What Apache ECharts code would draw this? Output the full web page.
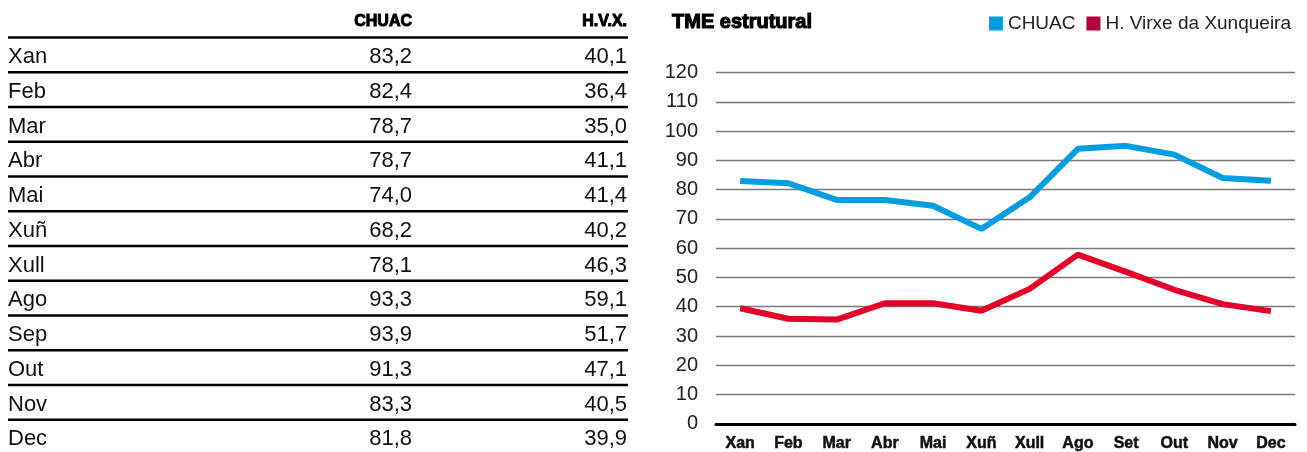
<!DOCTYPE html>
<html>
<head>
<meta charset="utf-8">
<script src="https://cdn.jsdelivr.net/npm/echarts@6/dist/echarts.min.js"></script>
<style>
html,body{margin:0;padding:0;background:#fff;}
#main{width:1307px;height:452px;}
</style>
</head>
<body>
<div id="main"></div>
<script>
// ---- Table data ----
const tableMonths = ['Xan','Feb','Mar','Abr','Mai','Xuñ','Xull','Ago','Sep','Out','Nov','Dec'];
const tableChuac = [83.2, 82.4, 78.7, 78.7, 74.0, 68.2, 78.1, 93.3, 93.9, 91.3, 83.3, 81.8];
const tableHvx = [40.1, 36.4, 35.0, 41.1, 41.4, 40.2, 46.3, 59.1, 51.7, 47.1, 40.5, 39.9];
const tableHeaders = ['CHUAC', 'H.V.X.'];

// ---- Chart data ----
const chartTitle = 'TME estrutural';
const categories = ['Xan','Feb','Mar','Abr','Mai','Xuñ','Xull','Ago','Set','Out','Nov','Dec'];
const seriesNames = ['CHUAC', 'H. Virxe da Xunqueira'];
const chuacLine = [83.0, 82.2, 76.5, 76.5, 74.5, 66.6, 77.4, 94.0, 95.0, 92.0, 84.0, 83.1];
const hvxLine = [39.5, 35.9, 35.6, 41.2, 41.2, 38.6, 46.1, 57.8, 51.9, 45.8, 40.9, 38.5];

const fmt = v => v.toFixed(1).replace('.', ',');

const chart = echarts.init(document.getElementById('main'), null, {renderer: 'canvas'});

// Build table graphics
const graphics = [];
const rowTop = 37.5, rowH = 34.75;
const colLeft = 8, col1Right = 412, col2Right = 627, tableRight = 628;
const bodyFont = '22px "Liberation Sans", Arial, sans-serif';
const headFont = 'bold 16px "Liberation Sans", Arial, sans-serif';
graphics.push({type:'text', style:{text: tableHeaders[0], x: col1Right, y: 22, textAlign:'right', textVerticalAlign:'middle', font: headFont, fill:'#000', stroke:'#000', lineWidth:1}});
graphics.push({type:'text', style:{text: tableHeaders[1], x: col2Right, y: 22, textAlign:'right', textVerticalAlign:'middle', font: headFont, fill:'#000', stroke:'#000', lineWidth:1}});
graphics.push({type:'line', shape:{x1: colLeft, y1: rowTop, x2: tableRight, y2: rowTop}, style:{stroke:'#000', lineWidth:2.5}});
tableMonths.forEach((m, i) => {
  const cy = rowTop + rowH * i + 19.5;
  graphics.push({type:'text', style:{text: m, x: colLeft, y: cy, textAlign:'left', textVerticalAlign:'middle', font: bodyFont, fill:'#111'}});
  graphics.push({type:'text', style:{text: fmt(tableChuac[i]), x: col1Right, y: cy, textAlign:'right', textVerticalAlign:'middle', font: bodyFont, fill:'#111'}});
  graphics.push({type:'text', style:{text: fmt(tableHvx[i]), x: col2Right, y: cy, textAlign:'right', textVerticalAlign:'middle', font: bodyFont, fill:'#111'}});
  if (i < tableMonths.length - 1) {
    const ly = rowTop + rowH * (i + 1);
    graphics.push({type:'line', shape:{x1: colLeft, y1: ly, x2: tableRight, y2: ly}, style:{stroke:'#000', lineWidth:2.5}});
  }
});
// Chart title
graphics.push({type:'text', style:{text: chartTitle, x: 672, y: 22, textAlign:'left', textVerticalAlign:'middle', font: 'bold 20px "Liberation Sans", Arial, sans-serif', fill:'#000', stroke:'#000', lineWidth:1.1}});

const option = {
  animation: false,
  backgroundColor: '#fff',
  graphic: graphics,
  legend: {
    right: 11, top: 9,
    icon: 'rect', itemWidth: 14, itemHeight: 14, itemGap: 11,
    textStyle: {fontFamily: '"Liberation Sans", Arial, sans-serif', fontSize: 19, color: '#222'},
    data: [
      {name: seriesNames[0], itemStyle: {color: '#009ee0'}},
      {name: seriesNames[1], itemStyle: {color: '#b1003a'}}
    ]
  },
  grid: {left: 716, right: 12, top: 72.7, bottom: 27, containLabel: false},
  xAxis: {
    type: 'category', data: categories, boundaryGap: true,
    axisLine: {show: true, lineStyle: {color: '#000', width: 3}},
    axisTick: {show: false},
    axisLabel: {margin: 12, color: '#111', fontFamily: '"Liberation Sans", Arial, sans-serif', fontSize: 16, fontWeight: 'bold', textBorderColor: '#111', textBorderWidth: 0.5, interval: 0}
  },
  yAxis: {
    type: 'value', min: 0, max: 120, interval: 10,
    axisLine: {show: false}, axisTick: {show: false},
    axisLabel: {margin: 18, color: '#222', fontFamily: '"Liberation Sans", Arial, sans-serif', fontSize: 20, padding: [3,0,0,0]},
    splitLine: {show: true, lineStyle: {color: '#7a7a7a', width: 1.4}}
  },
  series: [
    {name: seriesNames[0], type: 'line', data: chuacLine, showSymbol: false, symbol: 'none',
     lineStyle: {color: '#009ee0', width: 6}, itemStyle: {color: '#009ee0'}},
    {name: seriesNames[1], type: 'line', data: hvxLine, showSymbol: false, symbol: 'none',
     lineStyle: {color: '#e2002b', width: 6}, itemStyle: {color: '#e2002b'}}
  ]
};
chart.setOption(option);
</script>
</body>
</html>
